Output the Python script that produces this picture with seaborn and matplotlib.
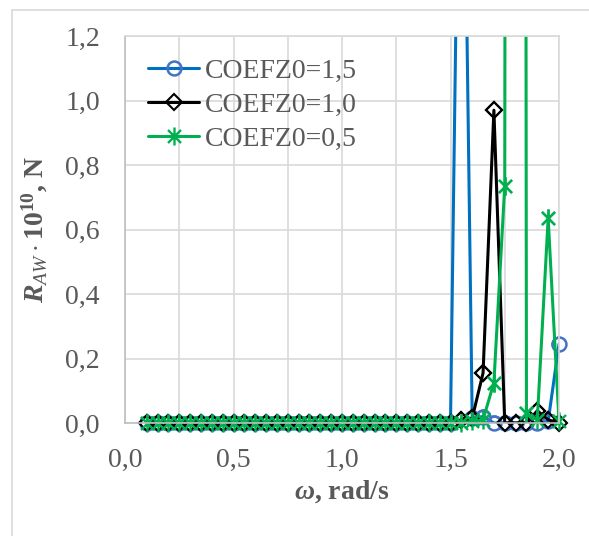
import numpy as np
import pandas as pd
import matplotlib
matplotlib.use("Agg")
import matplotlib.pyplot as plt
import seaborn as sns
from matplotlib.ticker import FuncFormatter, MultipleLocator
from matplotlib.patches import Rectangle
from matplotlib.path import Path

# =========================
# data
# =========================
omega = [0.10, 0.15, 0.20, 0.25, 0.30, 0.35, 0.40, 0.45, 0.50, 0.55,
         0.60, 0.65, 0.70, 0.75, 0.80, 0.85, 0.90, 0.95, 1.00, 1.05,
         1.10, 1.15, 1.20, 1.25, 1.30, 1.35, 1.40, 1.45, 1.50, 1.55,
         1.60, 1.65, 1.70, 1.75, 1.80, 1.85, 1.90, 1.95, 2.00]

raw_z15 = [0.0, 0.0, 0.0, 0.0, 0.0, 0.0, 0.0, 0.0, 0.0, 0.0,
           0.0, 0.0, 0.0, 0.0, 0.0, 0.0, 0.0, 0.0, 0.0, 0.0,
           0.0, 0.0, 0.0, 0.0, 0.0, 0.0, 0.0, 0.0, 0.0, 2.5,
           0.015, 0.02, 0.0, 0.0, 0.0, 0.0, 0.0, 0.005, 0.245]

raw_z10 = [0.0, 0.0, 0.0, 0.0, 0.0, 0.0, 0.0, 0.0, 0.0, 0.0,
           0.0, 0.0, 0.0, 0.0, 0.0, 0.0, 0.0, 0.0, 0.0, 0.0,
           0.0, 0.0, 0.0, 0.0, 0.0, 0.0, 0.0, 0.0, 0.0, 0.01,
           0.015, 0.155, 0.97, 0.0, 0.0, 0.0, 0.038, 0.01, 0.0]

raw_z05 = [0.0, 0.0, 0.0, 0.0, 0.0, 0.0, 0.0, 0.0, 0.0, 0.0,
           0.0, 0.0, 0.0, 0.0, 0.0, 0.0, 0.0, 0.0, 0.0, 0.0,
           0.0, 0.0, 0.0, 0.0, 0.0, 0.0, 0.0, 0.0, 0.0, 0.0,
           0.005, 0.01, 0.125, 0.735, 30.0, 0.03, 0.01, 0.635, 0.005]

series_labels = ["COEFZ0=1,5", "COEFZ0=1,0", "COEFZ0=0,5"]
y_ticks = [0.0, 0.2, 0.4, 0.6, 0.8, 1.0, 1.2]
x_ticks = [0.0, 0.5, 1.0, 1.5, 2.0]

# =========================
# style
# =========================
sns.set_style("white")
plt.rcParams["font.family"] = ["Liberation Serif", "DejaVu Serif"]
plt.rcParams["mathtext.fontset"] = "custom"
plt.rcParams["mathtext.rm"] = "Liberation Serif:bold"
plt.rcParams["mathtext.it"] = "Liberation Serif:italic"
plt.rcParams["mathtext.bf"] = "Liberation Serif:bold"
plt.rcParams["mathtext.bfit"] = "Liberation Serif:bold:italic"

gray_txt = "#595959"
grid_c = "#d9d9d9"
fs = 20

# excel-like star marker: x plus a vertical bar
star = Path([(0, -1), (0, 1), (-0.72, -0.72), (0.72, 0.72), (-0.72, 0.72), (0.72, -0.72)],
            [Path.MOVETO, Path.LINETO, Path.MOVETO, Path.LINETO, Path.MOVETO, Path.LINETO])

styles = [
    dict(color="#0070C0", marker="o", markersize=10, markerfacecolor="none",
         markeredgecolor="#4472C4", markeredgewidth=1.8),
    dict(color="black", marker="D", markersize=8, markerfacecolor="none",
         markeredgecolor="black", markeredgewidth=1.5),
    dict(color="#00B050", marker=star, markersize=13, markerfacecolor="none",
         markeredgecolor="#00B050", markeredgewidth=1.7),
]

fig = plt.figure(figsize=(5.89, 5.36), dpi=100)
ax = fig.add_axes([125 / 589, 1 - 423 / 536, 434 / 589, 387 / 536])

# outer chart border
fig.patches.append(Rectangle((12 / 589, -0.1), 1.2, 1 - 10 / 536 + 0.1,
                             transform=fig.transFigure, fill=False,
                             edgecolor=grid_c, linewidth=1.2, zorder=0))

for vals, lab, st in zip([raw_z15, raw_z10, raw_z05], series_labels, styles):
    df = pd.DataFrame({"omega": omega, "R": vals})
    # line clipped at the plot area
    sns.lineplot(data=df, x="omega", y="R", ax=ax, label=lab, linewidth=2.2,
                 estimator=None, sort=True, **st)
    # markers inside the visible range drawn without clipping
    vis = df[df["R"] <= 1.2]
    sns.lineplot(data=vis, x="omega", y="R", ax=ax, linestyle="", linewidth=0,
                 estimator=None, sort=True, clip_on=False, **st)

ax.set_xlim(0, 2.0)
ax.set_ylim(0, 1.2)
ax.set_xticks(x_ticks)
ax.set_yticks(y_ticks)
comma = FuncFormatter(lambda v, p: f"{v:.1f}".replace(".", ","))
ax.xaxis.set_major_formatter(comma)
ax.yaxis.set_major_formatter(comma)
ax.xaxis.set_minor_locator(MultipleLocator(0.25))
ax.grid(True, which="both", color=grid_c, linewidth=1.2)
ax.set_axisbelow(True)
ax.tick_params(axis="both", length=0, labelsize=fs, labelcolor=gray_txt)
ax.tick_params(axis="y", pad=18)
ax.tick_params(axis="x", pad=18)

for s in ax.spines.values():
    s.set_color(grid_c)
    s.set_linewidth(1.2)
ax.spines["left"].set_color("#bfbfbf")
ax.spines["bottom"].set_color("#bfbfbf")

ax.set_xlabel(r"$\mathbfit{\omega}$, rad/s", fontsize=fs, fontweight="bold",
              color=gray_txt, labelpad=4)
ax.set_ylabel(r"$\mathbfit{R}_{\mathit{AW}}\cdot\mathbf{10^{10}}$, N", fontsize=fs,
              fontweight="bold", color=gray_txt, labelpad=11)

leg = ax.legend(loc="upper left", bbox_to_anchor=(0.053, 0.942), frameon=False,
                fontsize=fs, handlelength=1.85, handletextpad=0.2,
                labelspacing=0.3, borderaxespad=0, borderpad=0)
for t in leg.get_texts():
    t.set_color(gray_txt)

fig.savefig("out.png", dpi=100)
